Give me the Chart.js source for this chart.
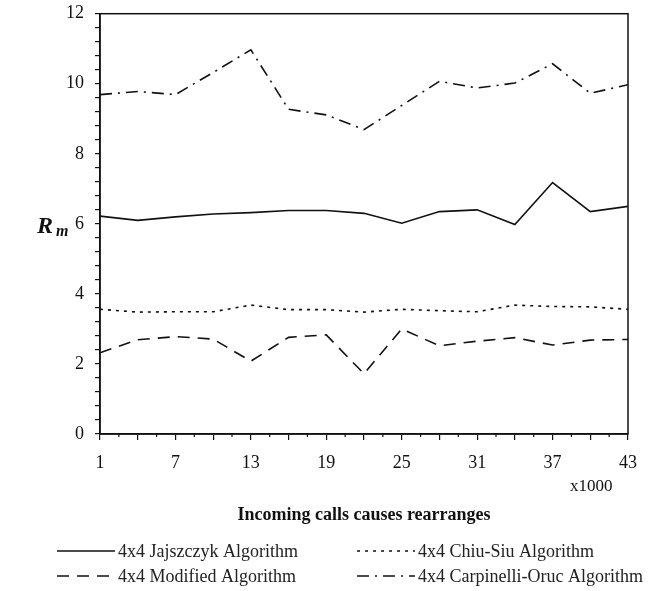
<!DOCTYPE html>
<html>
<head>
<meta charset="utf-8">
<script src="https://cdn.jsdelivr.net/npm/chart.js@4"></script>
<style>
  html, body { margin: 0; padding: 0; background: #fff; }
  #wrap { width: 662px; height: 591px; }
</style>
</head>
<body>
<div id="wrap"><canvas id="chart" width="662" height="591"></canvas></div>
<script>
// calls (x1000)
const calls = [1, 4, 7, 10, 13, 16, 19, 22, 25, 28, 31, 34, 37, 40, 43];

const jajszczyk = [6.22, 6.1, 6.2, 6.28, 6.32, 6.38, 6.38, 6.3, 6.02, 6.35, 6.4, 5.98, 7.18, 6.35, 6.5];
const chiuSiu = [3.56, 3.48, 3.49, 3.49, 3.68, 3.55, 3.55, 3.48, 3.56, 3.52, 3.49, 3.68, 3.64, 3.63, 3.56];
const modified = [2.32, 2.69, 2.78, 2.71, 2.08, 2.76, 2.83, 1.72, 3.0, 2.52, 2.65, 2.75, 2.54, 2.68, 2.7];
const carpinelli = [9.69, 9.78, 9.69, 10.32, 10.97, 9.27, 9.11, 8.69, 9.38, 10.07, 9.88, 10.02, 10.57, 9.73, 9.97];

const xLabels = [1, 7, 13, 19, 25, 31, 37, 43];
const yLabels = [0, 2, 4, 6, 8, 10, 12];

const seriesNames = ['4x4 Jajszczyk Algorithm', '4x4 Modified Algorithm', '4x4 Chiu-Siu Algorithm', '4x4 Carpinelli-Oruc Algorithm'];

const serif = '"Liberation Serif", "Times New Roman", serif';
const ink = '#111';

function toPoints(vals) {
    return vals.map((v, i) => ({ x: calls[i], y: v }));
}

// box, minor ticks, axis titles, x1000 note and legend
const decor = {
    id: 'decor',
    afterDraw(chart) {
        const ctx = chart.ctx;
        const a = chart.chartArea;
        const xs = chart.scales.x, ys = chart.scales.y;
        ctx.save();
        ctx.strokeStyle = ink;
        ctx.lineWidth = 1.5;
        ctx.strokeRect(a.left, a.top, a.right - a.left, a.bottom - a.top);

        // minor x ticks every 1.5
        ctx.lineWidth = 1.2;
        for (let v = 2.5; v < 43; v += 3) {
            const px = xs.getPixelForValue(v);
            ctx.beginPath();
            ctx.moveTo(px, a.bottom);
            ctx.lineTo(px, a.bottom + 3);
            ctx.stroke();
        }

        // y axis title R m
        ctx.fillStyle = ink;
        ctx.textBaseline = 'alphabetic';
        ctx.font = 'italic bold 24px ' + serif;
        ctx.fillText('R', 37, ys.getPixelForValue(6) + 9);
        ctx.font = 'italic bold 16px ' + serif;
        ctx.fillText('m', 56, ys.getPixelForValue(6) + 12);

        ctx.font = '17px ' + serif;
        ctx.fillText('x1000', 570, 491);

        ctx.textAlign = 'center';
        ctx.font = 'bold 18px ' + serif;
        ctx.fillText('Incoming calls causes rearranges', (a.left + a.right) / 2, 520);
        ctx.textAlign = 'left';

        // legend
        const rows = [551, 576];
        const cols = [57, 357];
        const ds = chart.data.datasets;
        ctx.font = '18px ' + serif;
        ctx.textBaseline = 'middle';
        ds.forEach((d, i) => {
            const cx = cols[i % 2];
            const cy = rows[Math.floor(i / 2)];
            ctx.strokeStyle = ink;
            ctx.lineWidth = 1.3;
            ctx.setLineDash(d.borderDash || []);
            ctx.beginPath();
            ctx.moveTo(cx, cy);
            ctx.lineTo(cx + 58, cy);
            ctx.stroke();
            ctx.setLineDash([]);
            ctx.fillStyle = '#222';
            ctx.fillText(d.label, cx + 61, cy + 1);
        });
        ctx.restore();
    }
};

const lineStyle = {
    borderColor: ink,
    borderWidth: 1.6,
    pointRadius: 0,
    fill: false,
    tension: 0
};

new Chart(document.getElementById('chart'), {
    type: 'line',
    data: {
        datasets: [
            { ...lineStyle, label: seriesNames[0], data: toPoints(jajszczyk) },
            { ...lineStyle, label: seriesNames[2], data: toPoints(chiuSiu), borderDash: [3, 5] },
            { ...lineStyle, label: seriesNames[1], data: toPoints(modified), borderDash: [12, 8] },
            { ...lineStyle, label: seriesNames[3], data: toPoints(carpinelli), borderDash: [12, 6, 2, 6] }
        ]
    },
    options: {
        responsive: false,
        animation: false,
        layout: { padding: { left: 50, right: 34, top: 12, bottom: 120 } },
        plugins: {
            legend: { display: false },
            tooltip: { enabled: false },
            title: { display: false }
        },
        scales: {
            x: {
                type: 'linear',
                min: 1,
                max: 43,
                afterBuildTicks: s => { s.ticks = calls.map(v => ({ value: v })); },
                afterFit: s => { s.height = 37; },
                grid: { drawOnChartArea: false, tickLength: 6, color: ink, lineWidth: 1.2 },
                border: { color: ink, width: 1.5 },
                ticks: {
                    autoSkip: false,
                    maxRotation: 0,
                    padding: 12,
                    color: ink,
                    font: { family: serif, size: 18 },
                    callback: v => xLabels.includes(v) ? String(v) : ''
                }
            },
            y: {
                min: 0,
                max: 12,
                afterBuildTicks: s => {
                    const t = [];
                    for (let k = 0; k <= 30; k++) t.push({ value: Math.round(k * 4) / 10 });
                    s.ticks = t;
                },
                afterFit: s => { s.width = 50; },
                grid: { drawOnChartArea: false, tickLength: 5, color: ink, lineWidth: 1.2 },
                border: { color: ink, width: 1.5 },
                ticks: {
                    autoSkip: false,
                    padding: 11,
                    color: ink,
                    font: { family: serif, size: 18, lineHeight: 0.3 },
                    callback: v => yLabels.includes(v) ? String(v) : ''
                }
            }
        }
    },
    plugins: [decor]
});
</script>
</body>
</html>
